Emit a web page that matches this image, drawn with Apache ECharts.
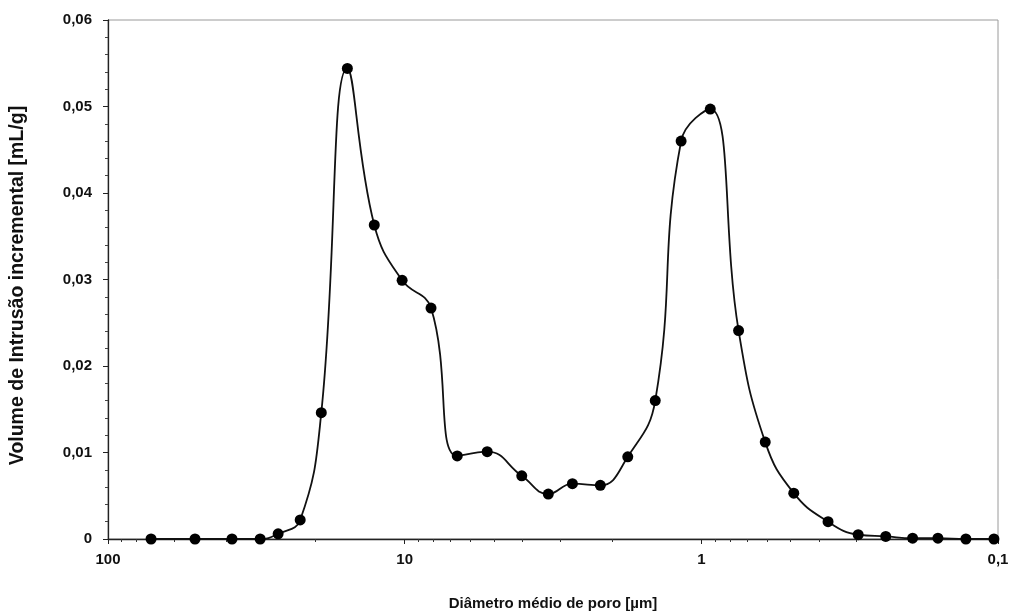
<!DOCTYPE html>
<html>
<head>
<meta charset="utf-8">
<script src="https://cdn.jsdelivr.net/npm/echarts@6/dist/echarts.min.js"></script>
<style>
  html, body { margin: 0; padding: 0; background: #fff; }
  #chart { width: 1012px; height: 615px; }
</style>
</head>
<body>
<div id="chart"></div>
<script>
// Mean pore diameter (µm) and incremental intrusion volume (mL/g)
const diameters = [71.6, 50.9, 38.2, 30.7, 26.7, 22.5, 19.1, 15.6, 12.66, 10.2, 8.15,
  6.65, 5.27, 4.03, 3.28, 2.72, 2.19, 1.77, 1.43, 1.17, 0.933, 0.749, 0.609,
  0.488, 0.374, 0.296, 0.239, 0.194, 0.1594, 0.1283, 0.1032];
const volumes = [0, 0, 0, 0, 0.0006, 0.0022, 0.0146, 0.0544, 0.0363, 0.0299, 0.0267,
  0.0096, 0.0101, 0.0073, 0.0052, 0.0064, 0.0062, 0.0095, 0.0160, 0.0460, 0.0497,
  0.0241, 0.0112, 0.0053, 0.0020, 0.0005, 0.0003, 0.0001, 0.0001, 0, 0];

const xMajorTicks = [100, 10, 1, 0.1];
const xMinorTicks = [];
[10, 1, 0.1].forEach(function (d) {
  for (let k = 2; k <= 9; k++) xMinorTicks.push(+(k * d).toPrecision(3));
});

const xTitle = 'Diâmetro médio de poro [µm]';
const yTitle = 'Volume de Intrusão incremental [mL/g]';

const font = 'Liberation Sans, Arial, sans-serif';
const comma = function (v) { return String(v).replace('.', ','); };

const chart = echarts.init(document.getElementById('chart'), null, { renderer: 'canvas' });
chart.setOption({
  animation: false,
  backgroundColor: '#fff',
  grid: {
    left: 108, right: 14, top: 20, bottom: 76,
    outerBoundsMode: 'none', containLabel: false,
    show: true, borderColor: '#9a9a9a', borderWidth: 1
  },
  xAxis: [
    {
      type: 'log', logBase: 10, min: 0.1, max: 100, inverse: true,
      name: xTitle, nameLocation: 'middle', nameGap: 57,
      nameTextStyle: { fontFamily: font, fontWeight: 'bold', fontSize: 15, color: '#111' },
      axisLine: { lineStyle: { color: '#222', width: 1.3 } },
      axisTick: { show: true, length: 5, customValues: xMajorTicks, lineStyle: { color: '#222' } },
      axisLabel: {
        customValues: xMajorTicks, margin: 13,
        fontFamily: font, fontWeight: 'bold', fontSize: 15, color: '#111',
        formatter: comma
      },
      splitLine: { show: false },
      minorTick: { show: false }
    },
    {
      // minor log ticks (2..9 in each decade)
      type: 'log', logBase: 10, min: 0.1, max: 100, inverse: true, position: 'bottom',
      axisLine: { show: false },
      axisTick: { show: true, length: 3, customValues: xMinorTicks, lineStyle: { color: '#333' } },
      axisLabel: { show: false },
      splitLine: { show: false }
    }
  ],
  yAxis: {
    type: 'value', min: 0, max: 0.06, interval: 0.01,
    name: yTitle, nameLocation: 'middle', nameGap: 80, nameRotate: 90,
    nameTextStyle: {
      fontFamily: font, fontWeight: 'bold', fontSize: 19.5, color: '#111',
      padding: [0, 12, 0, 0]
    },
    axisLine: { show: true, lineStyle: { color: '#222', width: 1.3 } },
    axisTick: { show: true, length: 5, lineStyle: { color: '#222' } },
    minorTick: { show: true, splitNumber: 5, length: 3, lineStyle: { color: '#444' } },
    axisLabel: {
      margin: 16, fontFamily: font, fontWeight: 'bold', fontSize: 15, color: '#111',
      formatter: comma
    },
    splitLine: { show: false }
  },
  series: [{
    type: 'line',
    data: diameters.map(function (d, i) { return [d, volumes[i]]; }),
    smooth: 0.45,
    symbol: 'circle', symbolSize: 11,
    itemStyle: { color: '#000' },
    lineStyle: { color: '#111', width: 1.8 },
    z: 3
  }]
});
</script>
</body>
</html>
